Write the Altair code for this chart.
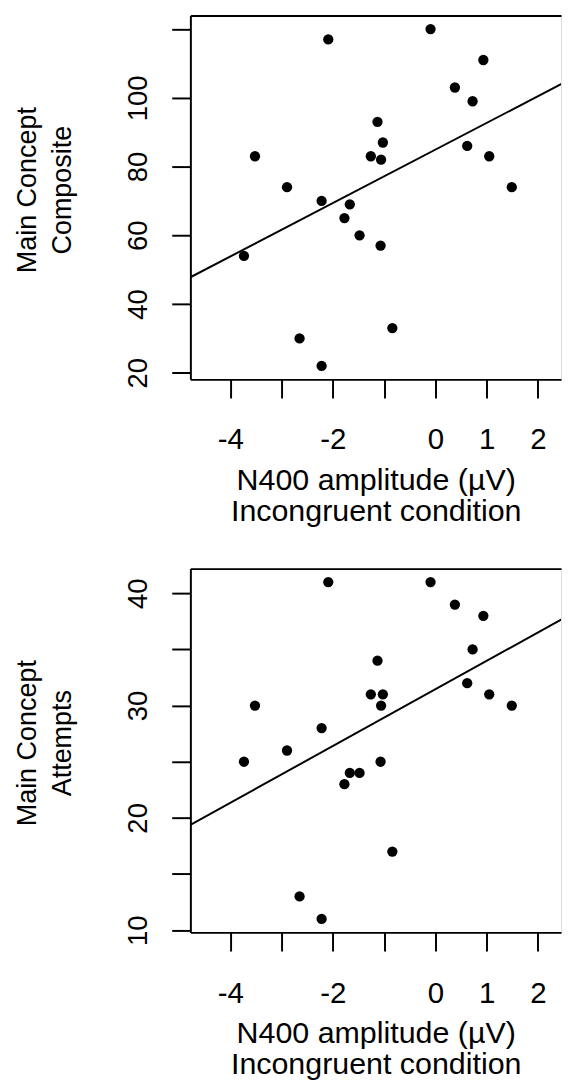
import altair as alt
import pandas as pd

# N400 amplitude (µV), incongruent condition
amplitude = [-2.09, -0.095, 0.935, 0.38, 0.725, -1.13, -1.025, -1.26, -1.06, -3.52,
             0.62, 1.05, 1.49, -2.895, -2.22, -1.67, -1.775, -1.48, -1.07, -3.735,
             -0.84, -2.65, -2.22]
composite = [117, 120, 111, 103, 99, 93, 87, 83, 82, 83,
             86, 83, 74, 74, 70, 69, 65, 60, 57, 54,
             33, 30, 22]
attempts = [41, 41, 38, 39, 35, 34, 31, 31, 30, 30,
            32, 31, 30, 26, 28, 24, 23, 24, 25, 25,
            17, 13, 11]

x_ticks = [-4, -3, -2, -1, 0, 1, 2]
x_title = ["N400 amplitude (µV)", "Incongruent condition"]
comp_ticks = [20, 40, 60, 80, 100, 120]
att_ticks = [10, 15, 20, 25, 30, 35, 40]

df = pd.DataFrame({"amp": amplitude, "composite": composite, "attempts": attempts})

X_DOMAIN = [-4.78, 2.45]
LINE_EXTENT = [-4.78, 2.78]
W, H = 378, 371
FONT = "Liberation Sans"
AX = dict(domainColor="black", domainWidth=2, tickColor="black", tickWidth=2, tickSize=19,
          labelColor="black", titleColor="black", labelFont=FONT, titleFont=FONT,
          titleFontWeight="normal", grid=False)


def panel(col, ydomain, yticks, ylabel_expr, ytitle):
    xscale = alt.Scale(domain=X_DOMAIN, nice=False, zero=False)
    yscale = alt.Scale(domain=ydomain, nice=False, zero=False)
    pts = alt.Chart(df).mark_circle(size=110, color="black", opacity=1).encode(
        x=alt.X("amp:Q", scale=xscale,
                axis=alt.Axis(values=x_ticks, title=x_title,
                              labelExpr="(datum.value == -3 || datum.value == -1) ? '' : toString(datum.value)",
                              labelFontSize=30, labelPadding=28, titleFontSize=31,
                              titlePadding=11, titleLineHeight=32, **AX)),
        y=alt.Y(f"{col}:Q", scale=yscale,
                axis=alt.Axis(values=yticks, title=ytitle, labelExpr=ylabel_expr,
                              labelAngle=-90, labelAlign="center", labelBaseline="alphabetic",
                              labelFontSize=28, labelPadding=26, titleFontSize=27.5,
                              titleLineHeight=36, titleX=-152, titleY=H / 2 - 8,
                              titleAngle=-90, titleAlign="center", titleBaseline="bottom", **AX)),
    )
    line = alt.Chart(df).transform_regression(
        "amp", col, extent=LINE_EXTENT
    ).mark_line(color="black", strokeWidth=2, clip=True).encode(
        x=alt.X("amp:Q", scale=xscale,
                axis=alt.Axis(orient="top", labels=False, ticks=False, domain=True,
                              title=None, domainColor="black", domainWidth=2, grid=False,
                              minExtent=0, maxExtent=0)),
        y=alt.Y(f"{col}:Q", scale=yscale, axis=None),
    )
    return alt.layer(pts, line).resolve_axis(x="independent", y="independent").properties(
        width=W, height=H)


top = panel("composite", [18.08, 123.92], comp_ticks,
            "datum.value == 120 ? '' : datum.label", ["Main Concept", "Composite"])
bottom = panel("attempts", [9.8, 42.2], att_ticks,
               "datum.value % 10 == 0 ? datum.label : ''", ["Main Concept", "Attempts"])

chart = alt.vconcat(top, bottom, spacing=41).properties(
    padding={"left": 5, "top": -4, "right": 0, "bottom": 0}
).configure_view(stroke=None).configure_axis(
    domainCap="square"
).configure(background="white")

chart.save("out.html", embed_options={"renderer": "svg", "actions": False})
